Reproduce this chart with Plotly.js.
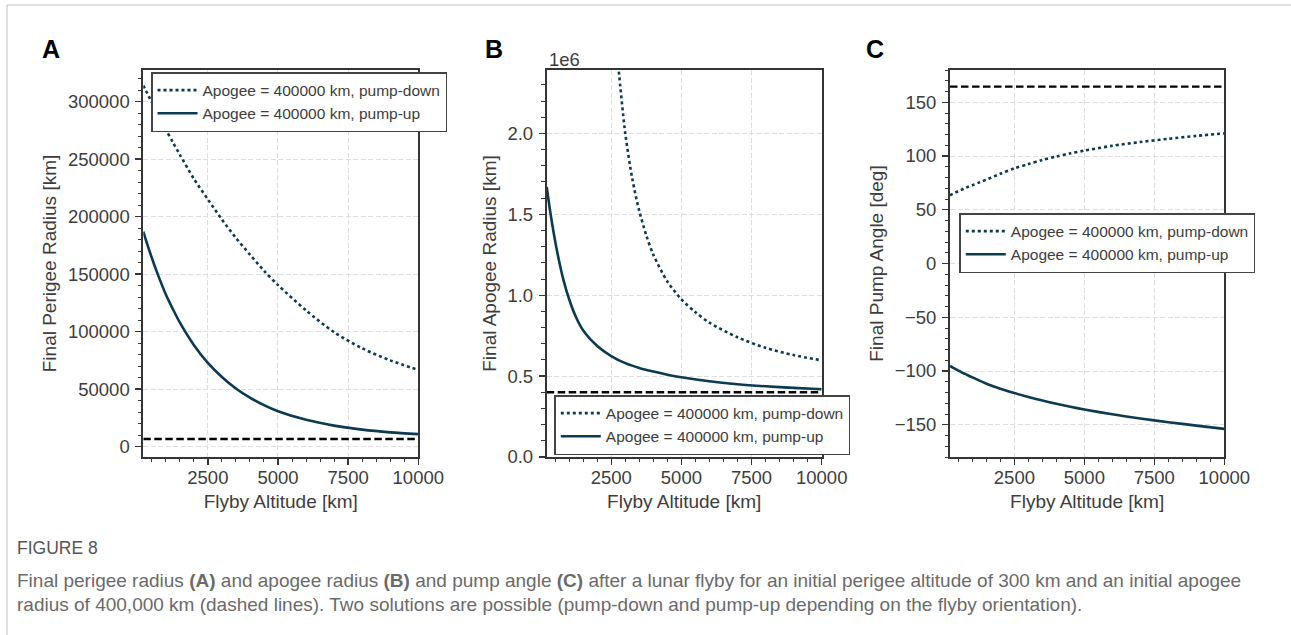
<!DOCTYPE html>
<html>
<head>
<meta charset="utf-8">
<script src="https://cdn.plot.ly/plotly-3.0.1.min.js"></script>
<style>
  html, body { margin: 0; padding: 0; background: #ffffff; }
  #chart { width: 1291px; height: 635px; }
</style>
</head>
<body>
<div id="chart"></div>
<script>
// ---------------- DATA ----------------
const altitudeKm = [200, 300, 400, 500, 600, 700, 800, 1000, 1250, 1500, 2000, 2500, 3000, 3500, 4000, 4500, 5000, 6000, 7000, 8000, 9000, 10000];

// Panel A: final perigee radius [km]
const perigeePumpDown = [314000, 309200, 304400, 299600, 294800, 290000, 285300, 276000, 264800, 254000, 233000, 215000, 197500, 181500, 167000, 153000, 140500, 118500, 99500, 85500, 75000, 66700];
const perigeePumpUp = [187000, 179100, 171600, 164400, 157500, 150900, 144500, 132500, 119800, 108000, 88400, 72800, 60600, 50600, 42600, 36100, 30800, 23300, 18300, 14800, 12450, 10900];
const initialPerigeeRadius = 6678;

// Panel B: final apogee radius [km]
const apogeePumpDownAltKm = [2750, 3000, 3250, 3500, 3750, 4000, 4500, 5000, 5500, 6000, 7000, 8000, 9000, 10000];
const apogeePumpDown = [2420000, 2000000, 1720000, 1520000, 1370000, 1250000, 1085000, 975000, 895000, 830000, 740000, 675000, 630000, 597000];
const apogeePumpUp = [1670000, 1545000, 1435000, 1335000, 1245000, 1165000, 1092000, 975000, 862000, 782000, 686000, 624000, 580000, 550000, 528000, 509000, 493000, 468000, 450000, 437000, 427000, 419000];
const initialApogeeRadius = 400000;

// Panel C: final pump angle [deg]
const pumpAnglePumpDown = [63.4, 64.8, 66.1, 67.3, 68.5, 69.7, 70.8, 72.8, 75.5, 78.0, 83.5, 88.5, 92.5, 96.3, 99.5, 102.5, 105.0, 109.5, 113.0, 116.0, 118.7, 121.0];
const pumpAnglePumpUp = [-95.3, -96.8, -98.2, -99.6, -101.0, -102.3, -103.5, -106.0, -109.0, -111.8, -116.5, -120.5, -124.2, -127.5, -130.5, -133.3, -135.8, -140.3, -144.2, -147.6, -150.8, -153.8];
const initialPumpAngle = 164.5;

// Labels
const seriesNames = ["Apogee = 400000 km, pump-down", "Apogee = 400000 km, pump-up"];
const panelLetters = ["A", "B", "C"];
const yTitles = ["Final Perigee Radius [km]", "Final Apogee Radius [km]", "Final Pump Angle [deg]"];
const xTitle = "Flyby Altitude [km]";
const xTickVals = [2500, 5000, 7500, 10000];
const xTickText = ["2500", "5000", "7500", "10000"];
const yTickValsA = [0, 50000, 100000, 150000, 200000, 250000, 300000];
const yTickTextA = ["0", "50000", "100000", "150000", "200000", "250000", "300000"];
const yTickValsB = [0, 500000, 1000000, 1500000, 2000000];
const yTickTextB = ["0.0", "0.5", "1.0", "1.5", "2.0"];
const yTickValsC = [-150, -100, -50, 0, 50, 100, 150];
const yTickTextC = ["\u2212150", "\u2212100", "\u221250", "0", "50", "100", "150"];
const offsetTextB = "1e6";
const figureLabel = "FIGURE 8";
const captionLine1 = "Final perigee radius <b>(A)</b> and apogee radius <b>(B)</b> and pump angle <b>(C)</b> after a lunar flyby for an initial perigee altitude of 300 km and an initial apogee";
const captionLine2 = "radius of 400,000 km (dashed lines). Two solutions are possible (pump-down and pump-up depending on the flyby orientation).";

// ---------------- STYLE ----------------
const W = 1291, H = 635;
const fx = v => v / W;
const fy = v => 1 - v / H;
const FONT = "Liberation Sans, Arial, Helvetica, sans-serif";
const LINE_COLOR = "#0b3a53";
const AX_COLOR = "#353535";
const TXT_COLOR = "#3d3d3d";
const xMin = altitudeKm[0], xMax = altitudeKm[altitudeKm.length - 1];

function curve(x, y, name, dash, xa, ya, legend) {
  return {
    type: "scatter", mode: "lines", x: x, y: y, name: name,
    xaxis: xa, yaxis: ya, legend: legend, showlegend: true,
    line: { color: LINE_COLOR, width: 2.6, dash: dash, shape: "spline", smoothing: 0.8 },
    hoverinfo: "skip"
  };
}
function refLine(value, xa, ya) {
  return {
    type: "scatter", mode: "lines", x: [xMin, xMax], y: [value, value],
    xaxis: xa, yaxis: ya, showlegend: false,
    line: { color: "#000000", width: 2.4, dash: "7.5px,3.5px" },
    hoverinfo: "skip"
  };
}

const traces = [
  curve(altitudeKm, perigeePumpDown, seriesNames[0], "dot", "x", "y", "legend"),
  curve(altitudeKm, perigeePumpUp, seriesNames[1], "solid", "x", "y", "legend"),
  refLine(initialPerigeeRadius, "x", "y"),
  curve(apogeePumpDownAltKm, apogeePumpDown, seriesNames[0], "dot", "x2", "y2", "legend2"),
  curve(altitudeKm, apogeePumpUp, seriesNames[1], "solid", "x2", "y2", "legend2"),
  refLine(initialApogeeRadius, "x2", "y2"),
  curve(altitudeKm, pumpAnglePumpDown, seriesNames[0], "dot", "x3", "y3", "legend3"),
  curve(altitudeKm, pumpAnglePumpUp, seriesNames[1], "solid", "x3", "y3", "legend3"),
  refLine(initialPumpAngle, "x3", "y3")
];

const yDomain = [fy(457), fy(70)];
function baseAxis(extra) {
  return Object.assign({
    showline: true, linecolor: AX_COLOR, linewidth: 1.9, mirror: true,
    ticks: "outside", ticklen: 6, tickwidth: 1.4, tickcolor: AX_COLOR,
    showgrid: true, gridcolor: "#dedede", gridwidth: 1, griddash: "5px,2.5px",
    zeroline: false, automargin: false, fixedrange: true,
    tickfont: { family: FONT, size: 18.5, color: TXT_COLOR }
  }, extra);
}
function xAxis(domain, anchor) {
  return baseAxis({
    domain: domain, anchor: anchor, range: [xMin, xMax],
    ticklabelstandoff: -3,
    tickmode: "array", tickvals: xTickVals, ticktext: xTickText,
    minor: { ticks: "outside", ticklen: 3.5, tickwidth: 1, tickcolor: AX_COLOR, tickmode: "linear", tick0: 0, dtick: 500, showgrid: false },
    title: { text: xTitle, font: { family: FONT, size: 19, color: TXT_COLOR }, standoff: 8 }
  });
}
function yAxis(anchor, range, tv, tt, minorStep, title) {
  return baseAxis({
    domain: yDomain, anchor: anchor, range: range,
    ticklabelstandoff: 2,
    tickmode: "array", tickvals: tv, ticktext: tt,
    minor: { ticks: "outside", ticklen: 3.5, tickwidth: 1, tickcolor: AX_COLOR, tickmode: "linear", tick0: 0, dtick: minorStep, showgrid: false },
    title: { text: title, font: { family: FONT, size: 19, color: TXT_COLOR }, standoff: 6 }
  });
}
function legendBox(x, y) {
  return {
    x: x, y: y, xanchor: "left", yanchor: "top", xref: "paper", yref: "paper",
    bgcolor: "#ffffff", bordercolor: "#444444", borderwidth: 1.5,
    font: { family: FONT, size: 15.5, color: TXT_COLOR },
    itemwidth: 40, tracegroupgap: 0, traceorder: "normal"
  };
}

const layout = {
  width: W, height: H,
  margin: { l: 0, r: 0, t: 0, b: 0, pad: 0 },
  paper_bgcolor: "#ffffff", plot_bgcolor: "#ffffff",
  showlegend: true, hovermode: false,
  xaxis: xAxis([fx(143.3), fx(418.3)], "y"),
  yaxis: yAxis("x", [-9000, 327500], yTickValsA, yTickTextA, 10000, yTitles[0]),
  xaxis2: xAxis([fx(546.7), fx(821.7)], "y2"),
  yaxis2: yAxis("x2", [0, 2392000], yTickValsB, yTickTextB, 100000, yTitles[1]),
  xaxis3: xAxis([fx(950), fx(1224.3)], "y3"),
  yaxis3: yAxis("x3", [-180, 180], yTickValsC, yTickTextC, 10, yTitles[2]),
  legend: legendBox(fx(151), fy(72)),
  legend2: legendBox(fx(554.3), fy(395)),
  legend3: legendBox(fx(959.3), fy(213)),
  shapes: [
    { type: "line", xref: "paper", yref: "paper", x0: fx(7), x1: 1, y0: fy(5), y1: fy(5), line: { color: "#d2d2d2", width: 1.4 } },
    { type: "line", xref: "paper", yref: "paper", x0: fx(7), x1: fx(7), y0: fy(5), y1: 0, line: { color: "#d2d2d2", width: 1.4 } }
  ],
  annotations: [
    { text: "<b>" + panelLetters[0] + "</b>", xref: "paper", yref: "paper", x: fx(51), y: fy(49), xanchor: "center", yanchor: "middle", showarrow: false, font: { family: FONT, size: 25, color: "#000000" } },
    { text: "<b>" + panelLetters[1] + "</b>", xref: "paper", yref: "paper", x: fx(493.5), y: fy(49), xanchor: "center", yanchor: "middle", showarrow: false, font: { family: FONT, size: 25, color: "#000000" } },
    { text: "<b>" + panelLetters[2] + "</b>", xref: "paper", yref: "paper", x: fx(875), y: fy(49), xanchor: "center", yanchor: "middle", showarrow: false, font: { family: FONT, size: 25, color: "#000000" } },
    { text: offsetTextB, xref: "paper", yref: "paper", x: fx(547), y: fy(59), xanchor: "left", yanchor: "middle", showarrow: false, font: { family: FONT, size: 18.5, color: TXT_COLOR } },
    { text: figureLabel, xref: "paper", yref: "paper", x: fx(15), y: fy(548), xanchor: "left", yanchor: "middle", showarrow: false, font: { family: FONT, size: 17.5, color: "#555555" } },
    { text: captionLine1, xref: "paper", yref: "paper", x: fx(15), y: fy(580), xanchor: "left", yanchor: "middle", showarrow: false, align: "left", font: { family: FONT, size: 19, color: "#6a6a6a" } },
    { text: captionLine2, xref: "paper", yref: "paper", x: fx(15), y: fy(604), xanchor: "left", yanchor: "middle", showarrow: false, align: "left", font: { family: FONT, size: 19, color: "#6a6a6a" } }
  ]
};

Plotly.newPlot("chart", traces, layout, { staticPlot: true, displayModeBar: false, responsive: false });
</script>
</body>
</html>
